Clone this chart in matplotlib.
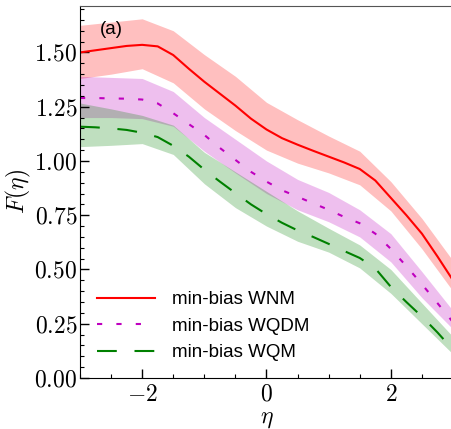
import numpy as np
import matplotlib
matplotlib.use('Agg')
import matplotlib.pyplot as plt
from matplotlib.ticker import MultipleLocator, FuncFormatter

plt.rcParams['mathtext.fontset'] = 'cm'
plt.rcParams['font.family'] = ['Liberation Sans', 'DejaVu Sans']

# central curves (eta step 0.25)
eta_line = np.arange(-3.0, 3.01, 0.25)
wnm = [1.50, 1.51, 1.52, 1.53, 1.535, 1.528, 1.488, 1.425, 1.365, 1.31, 1.255, 1.195, 1.145,
       1.105, 1.075, 1.047, 1.02, 0.993, 0.963, 0.91, 0.83, 0.75, 0.665, 0.56, 0.45]
wqdm = [1.29, 1.29, 1.288, 1.287, 1.283, 1.265, 1.22, 1.17, 1.12, 1.06, 1.005, 0.95, 0.905,
        0.865, 0.835, 0.805, 0.775, 0.742, 0.713, 0.665, 0.595, 0.515, 0.432, 0.345, 0.257]
wqm = [1.158, 1.155, 1.15, 1.143, 1.13, 1.11, 1.07, 1.02, 0.96, 0.905, 0.852, 0.80, 0.755,
       0.715, 0.68, 0.65, 0.618, 0.585, 0.553, 0.505, 0.42, 0.35, 0.283, 0.21, 0.13]

# uncertainty bands (eta step 0.5)
eta_band = np.arange(-3.0, 3.01, 0.5)
wnm_hi = [1.625, 1.64, 1.655, 1.60, 1.49, 1.39, 1.27, 1.19, 1.115, 1.045, 0.905, 0.735, 0.54]
wnm_lo = [1.38, 1.40, 1.425, 1.36, 1.24, 1.14, 1.05, 0.99, 0.945, 0.89, 0.77, 0.595, 0.40]
wqdm_hi = [1.39, 1.385, 1.38, 1.32, 1.20, 1.10, 1.0, 0.915, 0.855, 0.775, 0.665, 0.49, 0.31]
wqdm_lo = [1.20, 1.20, 1.195, 1.16, 1.045, 0.945, 0.85, 0.775, 0.72, 0.65, 0.535, 0.37, 0.225]
wqm_hi = [1.267, 1.24, 1.21, 1.165, 1.04, 0.95, 0.86, 0.77, 0.69, 0.613, 0.50, 0.345, 0.19]
wqm_lo = [1.066, 1.072, 1.08, 1.03, 0.895, 0.785, 0.70, 0.63, 0.58, 0.507, 0.39, 0.25, 0.11]

labels = ['min-bias WNM', 'min-bias WQDM', 'min-bias WQM']

fig = plt.figure(figsize=(4.52, 4.29), dpi=100)
ax = fig.add_axes([80 / 452, 51 / 429, 373 / 452, 372 / 429])

# bands
ax.fill_between(eta_band, wnm_lo, wnm_hi, color='r', alpha=0.25, lw=0)
ax.fill_between(eta_band, wqdm_lo, wqdm_hi, color='m', alpha=0.25, lw=0)
ax.fill_between(eta_band, wqm_lo, wqm_hi, color='g', alpha=0.25, lw=0)

# lines
ax.plot(eta_line, wnm, color='r', lw=1.5, label=labels[0])
ax.plot(eta_line, wqdm, color='m', lw=1.5, dashes=(2.5, 6.8), label=labels[1])
ax.plot(eta_line, wqm, color='g', lw=1.5, dashes=(9.5, 8.5), label=labels[2])

ax.set_xlim(-3, 3)
ax.set_ylim(0, 1.714)

ax.xaxis.set_major_locator(MultipleLocator(2))
ax.xaxis.set_minor_locator(MultipleLocator(0.5))
ax.yaxis.set_major_locator(MultipleLocator(0.25))
ax.yaxis.set_minor_locator(MultipleLocator(0.05))
ax.xaxis.set_major_formatter(FuncFormatter(lambda v, p: f'${v:g}$'))
ax.yaxis.set_major_formatter(FuncFormatter(lambda v, p: f'${v:.2f}$'))

ax.tick_params(which='both', direction='in', top=False, right=False, labelsize=17)
ax.tick_params(which='major', length=6.5, width=1)
ax.tick_params(which='minor', length=3, width=0.8)
ax.tick_params(axis='y', pad=2)
ax.tick_params(axis='x', pad=4)
ax.spines['top'].set_color('#555555')

ax.set_xlabel(r'$\eta$', fontsize=17, labelpad=2)
ax.set_ylabel(r'$F(\eta)$', fontsize=17, labelpad=1)

ax.text(0.053, 0.96, '(a)', transform=ax.transAxes, fontsize=13.5, ha='left', va='top')

ax.legend(loc='lower left', frameon=False, fontsize=13.5, handlelength=3.1, handletextpad=0.9)

plt.savefig('out.png', dpi=100)
